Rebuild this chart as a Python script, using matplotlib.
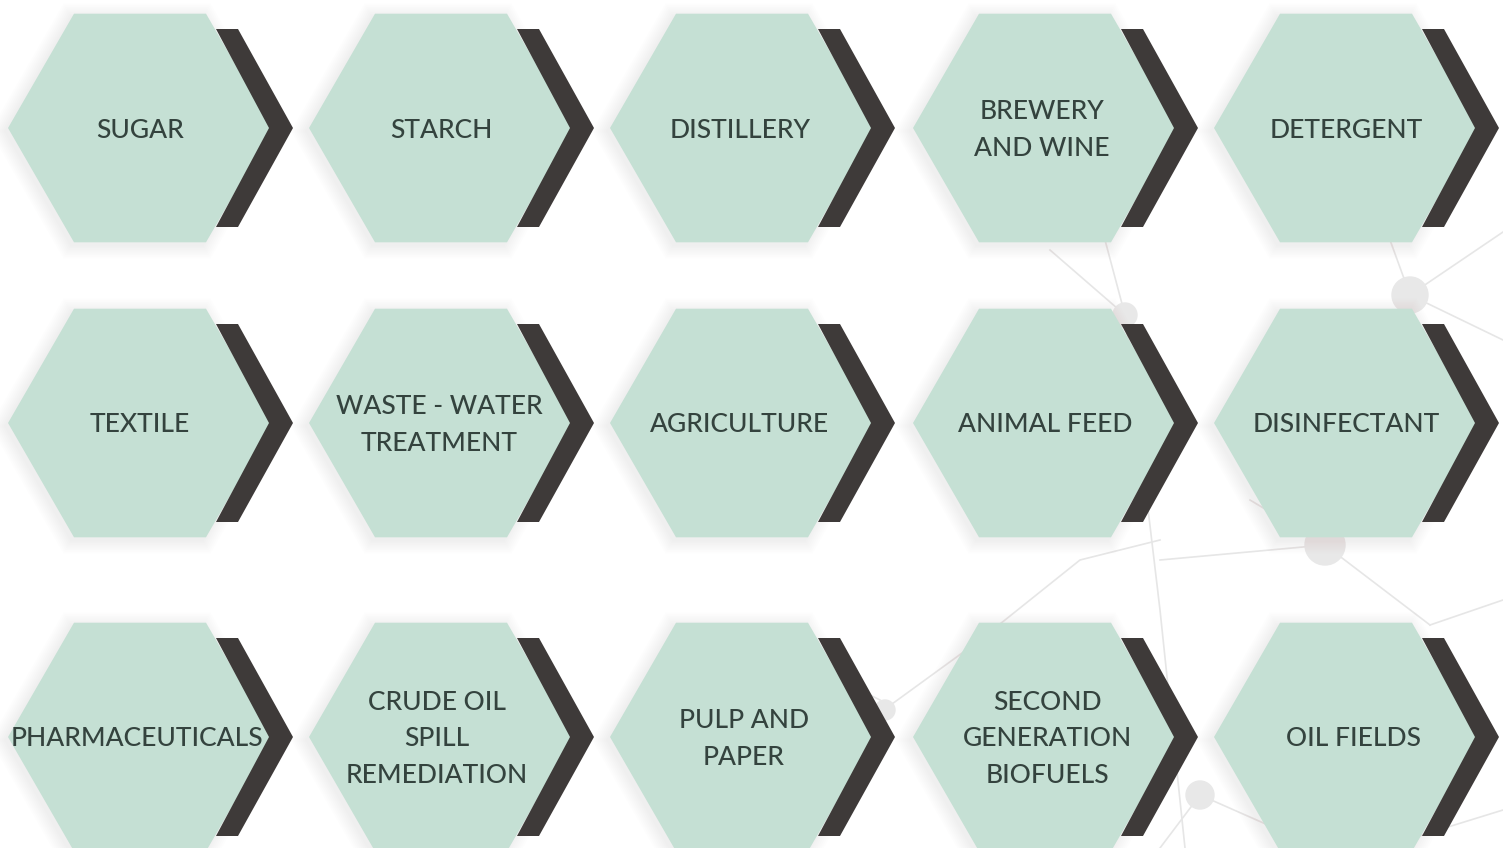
import numpy as np
import matplotlib
matplotlib.use("Agg")
import matplotlib.pyplot as plt
from matplotlib.patches import Polygon, Circle

# labels of the hexagon grid, row by row
labels = [
    ["SUGAR", "STARCH", "DISTILLERY", "BREWERY\nAND WINE", "DETERGENT"],
    ["TEXTILE", "WASTE - WATER\nTREATMENT", "AGRICULTURE", "ANIMAL FEED", "DISINFECTANT"],
    ["PHARMACEUTICALS", "CRUDE OIL\nSPILL\nREMEDIATION", "PULP AND\nPAPER",
     "SECOND\nGENERATION\nBIOFUELS", "OIL FIELDS"],
]
col_x = [140, 441, 742, 1045, 1346]
row_y = [128, 423, 737]
# small text offsets seen in the picture
text_dx = [
    [0, 0, -2, -3, 0],
    [0, -2, -2, 0, 0],
    [-3, -4, 2, 2, 7],
]

# faint network in the background
net_lines = [
    [(1050, 250), (1125, 315)],
    [(1105, 240), (1125, 315)],
    [(1125, 315), (1160, 610), (1185, 848)],
    [(1390, 240), (1410, 295), (1503, 232)],
    [(1410, 295), (1503, 340)],
    [(1160, 560), (1325, 545), (1430, 625)],
    [(1325, 545), (1250, 500)],
    [(870, 720), (980, 640), (1080, 560), (1160, 540)],
    [(1200, 795), (1320, 848)],
    [(1200, 795), (1160, 848)],
    [(1430, 625), (1503, 600)],
    [(1380, 848), (1503, 810)],
    [(880, 700), (800, 660)],
]
net_dots = [(1125, 315, 12), (1410, 295, 18), (1325, 545, 20), (1200, 795, 14), (885, 710, 10)]

hex_fill = "#c5e0d4"
chev_col = "#3e3a39"
txt_col = "#34433e"

R = 132
H = R * np.sqrt(3) / 2

fig = plt.figure(figsize=(15.03, 8.48), dpi=100)
ax = fig.add_axes([0, 0, 1, 1])
ax.set_xlim(0, 1503)
ax.set_ylim(848, 0)
ax.axis("off")

for pts in net_lines:
    xs, ys = zip(*pts)
    ax.plot(xs, ys, color="#e6e6e6", lw=1.2, zorder=0)
for x, y, r in net_dots:
    ax.add_patch(Circle((x, y), r, color="#e8e8e8", zorder=0))


def hexagon(cx, cy, r, h):
    return [(cx - r / 2, cy - h), (cx + r / 2, cy - h), (cx + r, cy),
            (cx + r / 2, cy + h), (cx - r / 2, cy + h), (cx - r, cy)]


for i, row in enumerate(labels):
    for j, lab in enumerate(row):
        cx, cy = col_x[j], row_y[i]
        # soft shadow
        for k in range(8):
            g = 1 + k * 2.0
            ax.add_patch(Polygon(hexagon(cx - 3, cy + 3, R + g, H + g * 0.87),
                                 closed=True, color="#c0b0b0", alpha=0.025, lw=0, zorder=1))
        ax.add_patch(Polygon(hexagon(cx, cy, R, H), closed=True, color=hex_fill, lw=0, zorder=2))
        chev = [(cx + 76, cy - 99), (cx + 98, cy - 99), (cx + 153, cy),
                (cx + 98, cy + 99), (cx + 76, cy + 99), (cx + 129, cy)]
        ax.add_patch(Polygon(chev, closed=True, color=chev_col, lw=0, zorder=3))
        ax.text(cx + text_dx[i][j], cy + 2, lab, ha="center", va="center", ma="center",
                fontsize=19, family=["Lato", "DejaVu Sans"], color=txt_col,
                fontweight="medium", linespacing=1.58, zorder=4)

fig.savefig("out.png", dpi=100)
